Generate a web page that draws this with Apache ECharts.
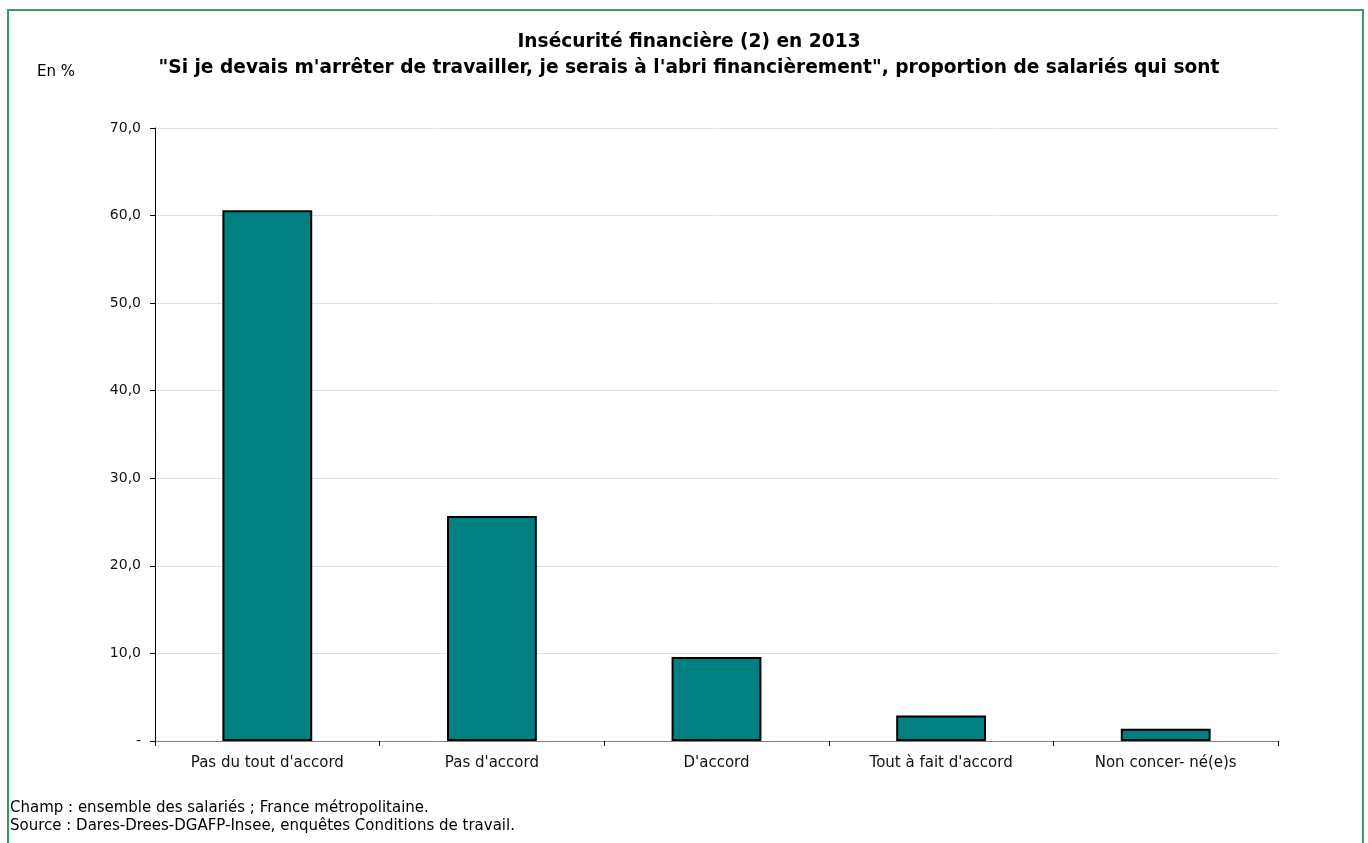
<!DOCTYPE html>
<html><head><meta charset="utf-8">
<script src="https://cdn.jsdelivr.net/npm/echarts@6/dist/echarts.min.js"></script>
<style>
html,body{margin:0;padding:0;background:#fff;}
#frame{position:absolute;left:7px;top:9px;width:1357px;height:850px;border:2px solid #3a9a64;box-sizing:border-box;}
#c{position:absolute;left:0;top:0;width:1368px;height:843px;}
</style>
</head><body>
<div id="frame"></div>
<div id="c"></div>
<script>
const categories = ["Pas du tout d'accord", "Pas d'accord", "D'accord", "Tout à fait d'accord", "Non concer- né(e)s"];
const values = [60.6, 25.7, 9.6, 2.9, 1.4];
const yTicks = { min: 0, max: 70, interval: 10 };
const titleLine1 = "Insécurité financière (2) en 2013";
const titleLine2 = "\"Si je devais m'arrêter de travailler, je serais à l'abri financièrement\", proportion de salariés qui sont";
const unitLabel = "En %";
const notes = ["Champ : ensemble des salariés ; France métropolitaine.", "Source : Dares-Drees-DGAFP-Insee, enquêtes Conditions de travail."];

const font = "'DejaVu Sans', sans-serif";
const chart = echarts.init(document.getElementById('c'));
chart.setOption({
  backgroundColor: 'transparent',
  animation: false,
  title: [
    { text: titleLine1 + "\n" + titleLine2, left: 689, top: 29, padding: 0, textAlign: 'center',
      textStyle: { fontFamily: font, fontSize: 18.6, fontWeight: 'bold', color: '#000', lineHeight: 26 } },
    { text: unitLabel, left: 37, top: 65, padding: 0, textStyle: { fontFamily: font, fontSize: 15, fontWeight: 'normal', color: '#000' } },
    { text: notes.join("\n"), left: 10, top: 799, padding: 0, textStyle: { fontFamily: font, fontSize: 15, fontWeight: 'normal', color: '#000', lineHeight: 18 } }
  ],
  grid: { left: 155, right: 90, top: 128, bottom: 102, containLabel: false },
  xAxis: {
    type: 'category', data: categories,
    axisLine: { lineStyle: { color: '#808080', width: 1 } },
    axisTick: { show: true, alignWithLabel: false, length: 5, lineStyle: { color: '#000' } },
    axisLabel: { fontFamily: font, fontSize: 15, color: '#111', margin: 15 }
  },
  yAxis: {
    type: 'value', min: yTicks.min, max: yTicks.max, interval: yTicks.interval,
    axisLine: { show: true, lineStyle: { color: '#000', width: 1 } },
    axisTick: { show: true, length: 5, lineStyle: { color: '#000' } },
    splitLine: { show: true, lineStyle: { color: '#e0e0e0', width: 1 } },
    axisLabel: { fontFamily: font, fontSize: 14, color: '#111', margin: 14,
      formatter: v => v === 0 ? '-' : v.toFixed(1).replace('.', ',') }
  },
  series: [{
    type: 'bar', data: values, barWidth: '40%',
    itemStyle: { color: '#008080', borderColor: '#000', borderWidth: 2 }
  }]
});
</script>
</body></html>
